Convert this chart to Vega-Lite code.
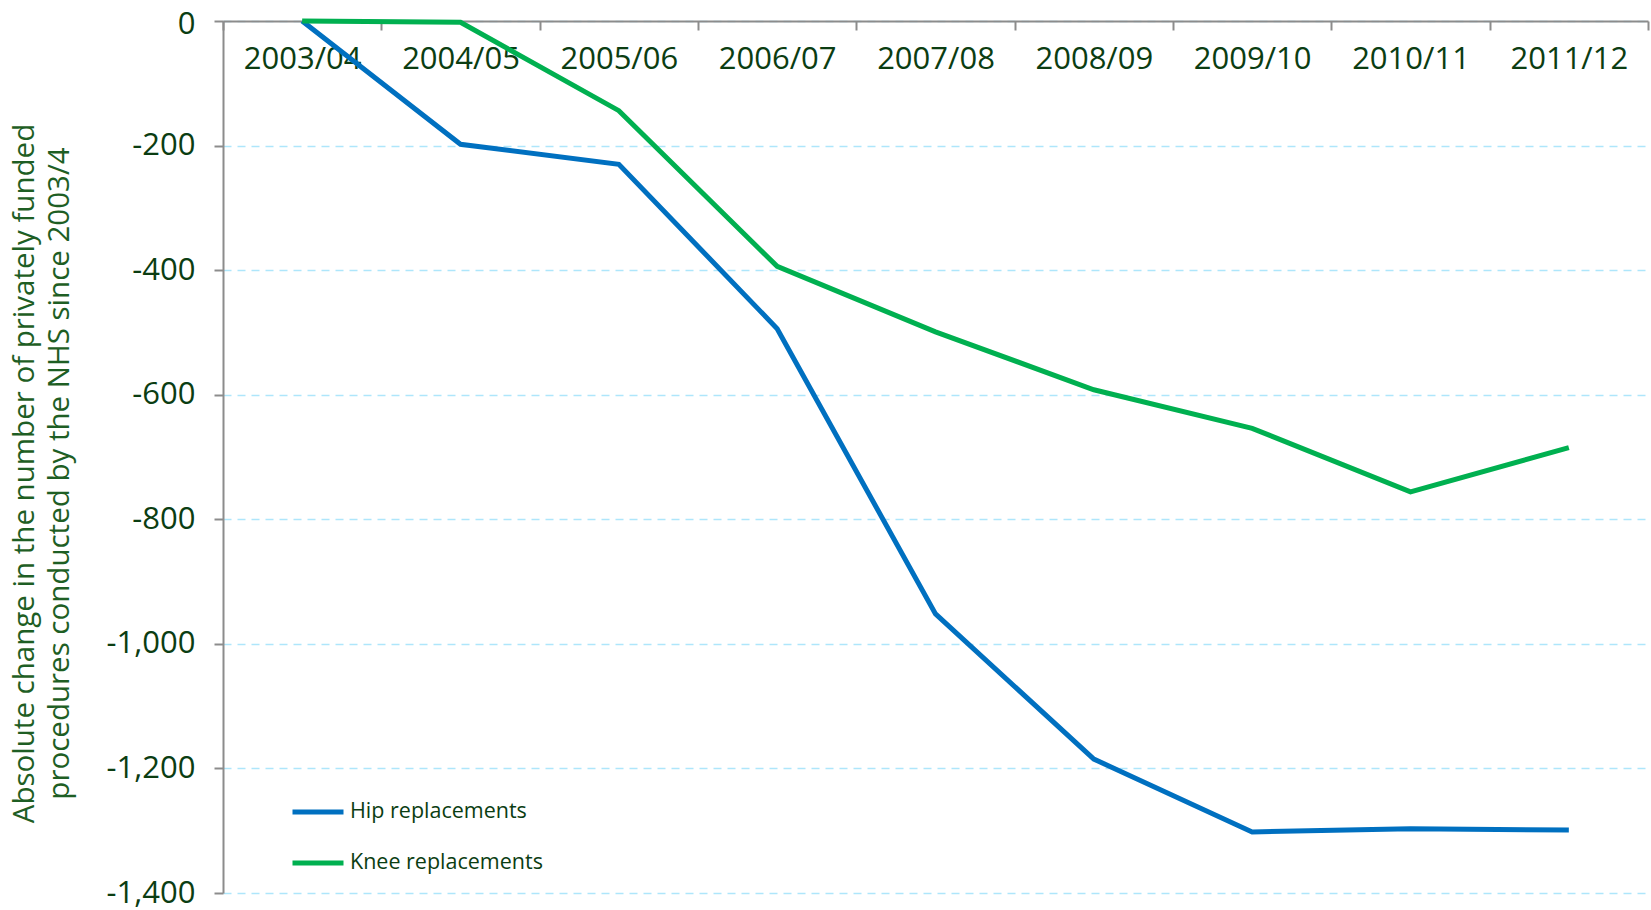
{
  "$schema": "https://vega.github.io/schema/vega-lite/v6.json",
  "width": 1425,
  "height": 872,
  "autosize": {"type": "none"},
  "padding": {"left": 223, "top": 21, "right": 3, "bottom": 17},
  "config": {"view": {"stroke": null}, "font": "Open Sans"},
  "data": {
    "values": [
      {"year": "2003/04", "series": "Hip replacements", "value": 0},
      {"year": "2004/05", "series": "Hip replacements", "value": -198},
      {"year": "2005/06", "series": "Hip replacements", "value": -230},
      {"year": "2006/07", "series": "Hip replacements", "value": -494},
      {"year": "2007/08", "series": "Hip replacements", "value": -952},
      {"year": "2008/09", "series": "Hip replacements", "value": -1185},
      {"year": "2009/10", "series": "Hip replacements", "value": -1302},
      {"year": "2010/11", "series": "Hip replacements", "value": -1297},
      {"year": "2011/12", "series": "Hip replacements", "value": -1299},
      {"year": "2003/04", "series": "Knee replacements", "value": 0},
      {"year": "2004/05", "series": "Knee replacements", "value": -2},
      {"year": "2005/06", "series": "Knee replacements", "value": -144},
      {"year": "2006/07", "series": "Knee replacements", "value": -394},
      {"year": "2007/08", "series": "Knee replacements", "value": -499},
      {"year": "2008/09", "series": "Knee replacements", "value": -592},
      {"year": "2009/10", "series": "Knee replacements", "value": -654},
      {"year": "2010/11", "series": "Knee replacements", "value": -756},
      {"year": "2011/12", "series": "Knee replacements", "value": -685}
    ]
  },
  "mark": {"type": "line", "strokeWidth": 5},
  "encoding": {
    "x": {
      "field": "year",
      "type": "ordinal",
      "sort": null,
      "bandPosition": 0.5,
      "scale": {"type": "band", "paddingInner": 0, "paddingOuter": 0},
      "axis": {
        "orient": "bottom",
        "offset": -872,
        "tickBand": "extent",
        "title": null,
        "labelAngle": 0,
        "labelFontSize": 31,
        "labelColor": "#0b3d12",
        "labelPadding": 14,
        "domainColor": "#8c8c8c",
        "domainWidth": 2,
        "tickColor": "#8c8c8c",
        "tickWidth": 2,
        "tickSize": 9,
        "grid": false
      }
    },
    "y": {
      "field": "value",
      "type": "quantitative",
      "scale": {"domain": [-1400, 0], "nice": false, "zero": false},
      "axis": {
        "values": [-1400, -1200, -1000, -800, -600, -400, -200, 0],
        "labelExpr": "replace(format(datum.value, ','), '−', '-')",
        "labelOffset": {"condition": {"test": "datum.value === 0", "value": 3}, "value": 0},
        "title": ["Absolute change in the number of privately funded", "procedures conducted by the NHS since 2003/4"],
        "titleFontSize": 29.5,
        "titleFontWeight": "normal",
        "titleColor": "#1e5e24",
        "titlePadding": 32,
        "titleY": 452,
        "titleLineHeight": 35,
        "labelFontSize": 31,
        "labelColor": "#0b3d12",
        "labelPadding": 19,
        "domainColor": "#8c8c8c",
        "domainWidth": 2,
        "tickColor": "#8c8c8c",
        "tickWidth": 2,
        "tickSize": 9,
        "grid": true,
        "gridColor": "#aee6fb",
        "gridDash": [8, 6],
        "gridWidth": 1.5
      }
    },
    "color": {
      "field": "series",
      "type": "nominal",
      "scale": {"domain": ["Hip replacements", "Knee replacements"], "range": ["#0070c0", "#00b050"]},
      "legend": {
        "orient": "none",
        "legendX": 67,
        "legendY": 763,
        "title": null,
        "padding": 0,
        "symbolType": "stroke",
        "symbolSize": 2601,
        "symbolStrokeWidth": 5,
        "labelFontSize": 21.5,
        "labelLimit": 0,
        "labelColor": "#0b3d12",
        "labelOffset": 4,
        "rowPadding": 12
      }
    }
  }
}
